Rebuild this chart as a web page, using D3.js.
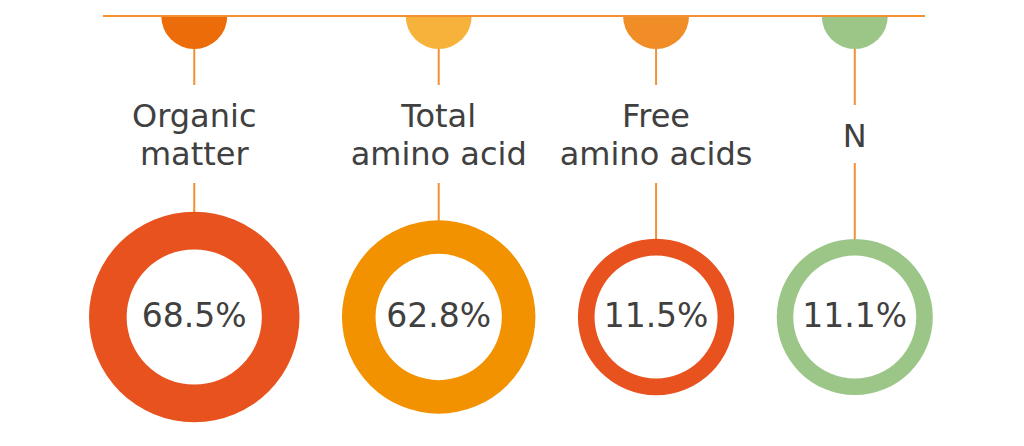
<!DOCTYPE html>
<html>
<head>
<meta charset="utf-8">
<script src="https://cdn.jsdelivr.net/npm/d3@7"></script>
<style>
  html, body { margin: 0; padding: 0; background: #fff; }
  svg { display: block; }
</style>
</head>
<body>
<svg id="chart" width="1024" height="446"></svg>
<script>
// ---- data ----
const categories = ["Organic matter", "Total amino acid", "Free amino acids", "N"];
const labelLines = [["Organic", "matter"], ["Total", "amino acid"], ["Free", "amino acids"], ["N"]];
const values = [68.5, 62.8, 11.5, 11.1];
const valueLabels = ["68.5%", "62.8%", "11.5%", "11.1%"];
const capColors = ["#EC6C0A", "#F7B23B", "#F18D27", "#9BC688"];
const ringColors = ["#E8521F", "#F29200", "#E8521F", "#9BC688"];

// ---- layout ----
const svg = d3.select("#chart");
const lineColor = "#F39031";
const textColor = "#404040";
const font = "'DejaVu Sans', Verdana, sans-serif";
const topY = 16;
const cy = 317;
const gap = 42.5;
const startX = 89;

const rOuter = d3.scaleLinear().domain([11, 62, 69]).range([78, 95.5, 106]);
const rInner = d3.scaleLinear().domain([11, 62, 69]).range([61.5, 62.5, 68]);

// positions: donuts laid side by side with constant gap
const xs = [];
let cursor = startX;
values.forEach(v => {
  const r = rOuter(v);
  xs.push(cursor + r);
  cursor += 2 * r + gap;
});

const capArc = d3.arc().innerRadius(0).outerRadius(33)
  .startAngle(Math.PI / 2).endAngle(3 * Math.PI / 2);

const g = svg.selectAll("g.item").data(values).enter().append("g").attr("class", "item");

g.each(function(v, i) {
  const sel = d3.select(this);
  const x = xs[i];
  const ro = rOuter(v), ri = rInner(v);
  const lines = labelLines[i];
  const single = lines.length === 1;

  // stems
  sel.append("line")
    .attr("x1", x).attr("x2", x)
    .attr("y1", topY + 30).attr("y2", single ? 105 : 85)
    .attr("stroke", lineColor).attr("stroke-width", 2);
  sel.append("line")
    .attr("x1", x).attr("x2", x)
    .attr("y1", single ? 163 : 183).attr("y2", cy - ro + 2)
    .attr("stroke", lineColor).attr("stroke-width", 2);

  // half circle cap
  sel.append("path")
    .attr("d", capArc())
    .attr("transform", `translate(${x},${topY})`)
    .attr("fill", capColors[i]);

  // label
  const t = sel.append("text")
    .attr("text-anchor", "middle")
    .attr("font-family", font)
    .attr("font-size", 32)
    .attr("fill", textColor);
  if (single) {
    t.append("tspan").attr("x", x).attr("y", 147).text(lines[0]);
  } else {
    lines.forEach((ln, k) => {
      t.append("tspan").attr("x", x).attr("y", 127 + k * 38).text(ln);
    });
  }

  // donut ring
  const ring = d3.arc().innerRadius(ri).outerRadius(ro).startAngle(0).endAngle(2 * Math.PI);
  sel.append("path")
    .attr("d", ring())
    .attr("transform", `translate(${x},${cy})`)
    .attr("fill", ringColors[i]);

  // value label
  sel.append("text")
    .attr("x", x).attr("y", cy + 10)
    .attr("text-anchor", "middle")
    .attr("font-family", font)
    .attr("font-size", 33)
    .attr("fill", textColor)
    .text(valueLabels[i]);
});

// top rule above caps
svg.append("line")
  .attr("x1", 103).attr("x2", 925)
  .attr("y1", topY).attr("y2", topY)
  .attr("stroke", lineColor).attr("stroke-width", 2);
</script>
</body>
</html>
